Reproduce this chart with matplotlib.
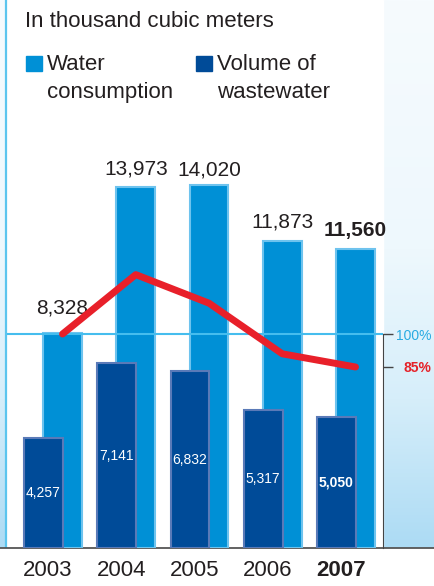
import numpy as np
import matplotlib.pyplot as plt
from matplotlib.patches import Rectangle
from matplotlib.lines import Line2D
from matplotlib.colors import to_rgb

plt.rcParams['font.family'] = ['Liberation Sans', 'DejaVu Sans']

# Datos (miles de m3)
years = ['2003', '2004', '2005', '2006', '2007']
water = [8328, 13973, 14020, 11873, 11560]
wastewater = [4257, 7141, 6832, 5317, 5050]
index_pct = [100, 127, 114, 91, 85]
pct_ticks = [100, 85]
pct_labels = ['100%', '85%']

W, H = 435, 586


def fx(px):
    return px / W


def fy(py):
    return 1 - py / H


fig = plt.figure(figsize=(W / 100, H / 100), dpi=100)

# fondo con degradado
bg = fig.add_axes([0, fy(548), 1, 548 / H], zorder=0)
stops_y = [0, 250, 400, 548]
stops_c = ['#f6fbfe', '#eef8fd', '#d6eefa', '#acdbf4']
rows = np.linspace(0, 548, 200)
cols = np.array([to_rgb(c) for c in stops_c])
grad = np.stack([np.interp(rows, stops_y, cols[:, k]) for k in range(3)], axis=-1)
bg.imshow(grad[:, None, :], extent=[0, W, 548, 0], aspect='auto')
bg.add_patch(Rectangle((7, 0), 376, 548, color='white'))
bg.axvline(6.5, color='#5bc5ee', lw=1.6)
bg.set_xlim(0, W)
bg.set_ylim(548, 0)
bg.axis('off')

# ejes principales
ax = fig.add_axes([fx(7), fy(548), 376 / W, 548 / H], zorder=2)
ax.patch.set_alpha(0)
x = np.arange(len(years))
ax.set_xlim(-0.758, 4.375)
ax.set_ylim(0, 548 / 0.02587)

ax.bar(x, water, width=0.53, color='#0090d6', edgecolor='#6ec3ee',
       linewidth=1.5, zorder=2)
ax.bar(x - 0.26, wastewater, width=0.53, color='#004b98', edgecolor='#5a7ab8',
       linewidth=1.5, zorder=3)

pads = [14, 9, 7, 9.5, 9]
for i, v in enumerate(water):
    ax.annotate(f'{v:,}', (x[i], v), xytext=(0, pads[i]), textcoords='offset points',
                ha='center', va='baseline', fontsize=15, color='#231f20',
                fontweight='bold' if i == len(water) - 1 else 'normal')
for i, v in enumerate(wastewater):
    ax.text(x[i] - 0.26, v / 2, f'{v:,}', ha='center', va='center', fontsize=10,
            color='white', zorder=4,
            fontweight='bold' if i == len(wastewater) - 1 else 'normal')

ax.set_xticks(x - 0.2)
ax.set_xticklabels(years, fontsize=16, color='#231f20')
ax.get_xticklabels()[-1].set_fontweight('bold')
ax.tick_params(axis='x', length=0, pad=9)
ax.set_yticks([])
for s in ax.spines.values():
    s.set_visible(False)

# índice (%)
ax2 = ax.twinx()
ax2.set_ylim(6 / 2.2, 554 / 2.2)
ax2.axhline(100, color='#45bdee', lw=1.5, zorder=1)
ax2.plot(x, index_pct, color='#e8202a', lw=5, solid_capstyle='round', zorder=5)
for s in ['top', 'left', 'bottom']:
    ax2.spines[s].set_visible(False)
ax2.spines['right'].set_bounds(6 / 2.2, 100)
ax2.spines['right'].set_color('#444444')
ax2.set_yticks(pct_ticks)
ax2.set_yticklabels(pct_labels, fontsize=10)
ax2.tick_params(axis='y', length=7, width=1, color='#444444', pad=28)
tl = ax2.get_yticklabels()
for t in tl:
    t.set_ha('right')
tl[0].set_color('#29abe2')
tl[1].set_color('#e52229')
tl[1].set_fontweight('bold')

# línea base
fig.add_artist(Line2D([0, 1], [fy(548), fy(548)], color='#555555', lw=1.3))

# título y leyenda
fig.text(fx(25), fy(27), 'In thousand cubic meters', fontsize=16,
         color='#231f20', va='baseline')
fig.add_artist(Rectangle((fx(26), fy(71)), 16 / W, 15 / H, color='#0090d6',
                         transform=fig.transFigure))
fig.add_artist(Rectangle((fx(196), fy(71)), 16 / W, 15 / H, color='#004b98',
                         transform=fig.transFigure))
fig.text(fx(47), fy(70), 'Water', fontsize=16, color='#231f20', va='baseline')
fig.text(fx(47), fy(98), 'consumption', fontsize=16, color='#231f20', va='baseline')
fig.text(fx(217), fy(70), 'Volume of', fontsize=16, color='#231f20', va='baseline')
fig.text(fx(217), fy(98), 'wastewater', fontsize=16, color='#231f20', va='baseline')

fig.savefig('out.png', dpi=100)
